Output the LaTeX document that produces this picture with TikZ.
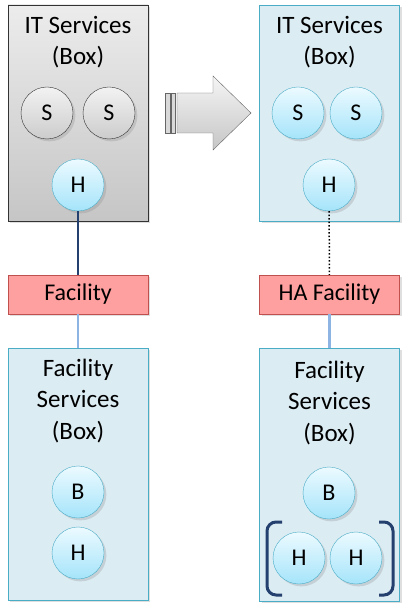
\documentclass[tikz,border=0pt]{standalone}
\usepackage{fontspec}
\setmainfont{Carlito}
\definecolor{boxblue}{RGB}{219,236,243}
\definecolor{edgeblue}{RGB}{75,172,198}
\definecolor{ballhi}{RGB}{236,250,255}
\definecolor{balllo}{RGB}{165,228,250}
\definecolor{facred}{RGB}{255,160,160}
\definecolor{edgered}{RGB}{192,80,77}
\definecolor{linknavy}{RGB}{36,64,110}
\definecolor{linklight}{RGB}{141,180,226}
\colorlet{bracketnavy}{linknavy}
\usetikzlibrary{positioning, shadows}

\begin{document}
\begin{tikzpicture}[x=1pt, y=-1pt,
  itbox/.style={rectangle, draw=black!80, top color=gray!15, bottom color=gray!45,
    minimum width=140pt, minimum height=216pt, drop shadow={opacity=0.25}},
  bluebox/.style={rectangle, draw=edgeblue, fill=boxblue,
    minimum width=140pt, drop shadow={opacity=0.25}},
  facbox/.style={rectangle, draw=edgered, fill=facred, font=\fontsize{24}{26}\selectfont,
    minimum width=140pt, minimum height=39pt, inner sep=0pt, drop shadow={opacity=0.25}},
  title/.style={align=center, font=\fontsize{25}{31.5}\selectfont},
  ball/.style={circle, draw=edgeblue, top color=ballhi, bottom color=balllo,
    minimum size=52pt, inner sep=0pt, font=\fontsize{24}{26}\selectfont,
    drop shadow={opacity=0.25}},
  greyball/.style={ball, draw=black!80, top color=gray!10, bottom color=gray!40},
  bracket/.style={draw=bracketnavy, line width=3pt, rounded corners=9pt},
]
  \useasboundingbox (0,0) rectangle (413,609);

  % left side: before
  \node[itbox] (itl) at (78,113) {};
  \node[title] (itltext) at (78,42) {IT Services\\(Box)};
  \node[greyball] (sl1) at (47,113) {S};
  \node[greyball] (sl2) at (109,113) {S};
  \node[ball] (hl) at (78,185) {H};
  \node[facbox] (facl) at (78,294.5) {Facility};
  \node[bluebox, minimum height=252pt] (fbl) at (78,474) {};
  \node[title] (fbltext) at (78,401) {Facility\\Services\\(Box)};
  \node[ball] (bl) at (78,492) {B};
  \node[ball] (hl2) at (78,553) {H};
  \draw[linknavy, line width=1.2pt] (hl) -- (facl);
  \draw[linklight, line width=2.5pt] (facl) -- (fbl);

  % arrow in the middle
  \draw[black!60, top color=gray!8, bottom color=gray!45]
    (177,93) -- (213,93) -- (213,76) -- (251,113) -- (213,150) -- (213,133) -- (177,133) -- cycle;
  \draw[black!60, fill=gray!30] (165,93) rectangle (170,133);
  \draw[black!60, fill=gray!30] (171,93) rectangle (175,133);

  % right side: after
  \node[bluebox, minimum height=216pt] (itr) at (329.5,113) {};
  \node[title] (itrtext) at (329.5,42) {IT Services\\(Box)};
  \node[ball] (sr1) at (298,113) {S};
  \node[ball] (sr2) at (356,113) {S};
  \node[ball] (hr) at (329,185) {H};
  \node[facbox] (facr) at (329.5,294.5) {HA Facility};
  \node[bluebox, minimum height=253pt] (fbr) at (329.5,474.5) {};
  \node[title] (fbrtext) at (329.5,403) {Facility\\Services\\(Box)};
  \node[ball] (br) at (329,493) {B};
  \node[ball] (hr1) at (299,558) {H};
  \node[ball] (hr2) at (356,558) {H};
  \draw[black, line width=1.5pt, dotted] (hr) -- (facr);
  \draw[linklight, line width=2.5pt] (facr) -- (fbr);
  \draw[bracket] (282,522) -| (267,595) -- (282,595);
  \draw[bracket] (379,522) -| (393,595) -- (379,595);
\end{tikzpicture}
\end{document}
